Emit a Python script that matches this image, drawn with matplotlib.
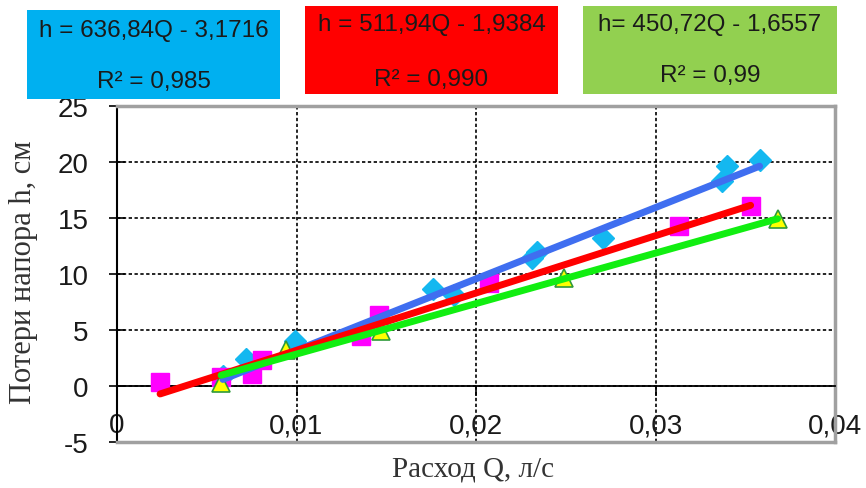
import numpy as np
import matplotlib.pyplot as plt
from matplotlib.patches import Rectangle

plt.rcParams['font.family'] = ['Liberation Sans', 'DejaVu Sans']
plt.rcParams['axes.unicode_minus'] = False

# серия 1 (ромбы)
q1 = [0.0059, 0.0072, 0.0099, 0.0176, 0.0188, 0.0231, 0.0234, 0.0271, 0.0337, 0.0340, 0.0358]
h1 = [0.9, 2.4, 4.0, 8.7, 8.1, 11.4, 12.0, 13.2, 18.3, 19.6, 20.2]
# серия 2 (квадраты)
q2 = [0.0024, 0.0058, 0.0075, 0.0081, 0.0136, 0.0146, 0.0207, 0.0313, 0.0353]
h2 = [0.4, 0.8, 1.1, 2.3, 4.5, 6.3, 9.2, 14.3, 16.1]
# серия 3 (треугольники)
q3 = [0.0058, 0.0094, 0.0147, 0.0249, 0.0368]
h3 = [0.3, 3.2, 4.9, 9.6, 14.9]

# линии тренда: h = a*Q + b
a1, b1 = 636.84, -3.1716
a2, b2 = 511.94, -1.9384
a3, b3 = 450.72, -1.6557

eq_text = ["h = 636,84Q - 3,1716", "h = 511,94Q - 1,9384", "h= 450,72Q - 1,6557"]
r2_text = ["R² = 0,985", "R² = 0,990", "R² = 0,99"]

xticks = [0, 0.01, 0.02, 0.03, 0.04]
xtick_labels = ["0", "0,01", "0,02", "0,03", "0,04"]
yticks = [-5, 0, 5, 10, 15, 20, 25]

W, H = 866, 489
fig = plt.figure(figsize=(8.66, 4.89), dpi=100)
ax = fig.add_axes([117 / W, 1 - 443 / H, 718 / W, 336 / H])

ax.plot(q1, h1, 'D', color='#14b8f0', markersize=11.5, mec='#14b8f0', zorder=3)
ax.plot(q2, h2, 's', color='#ff00ff', markersize=12.5, mec='#ff00ff', zorder=3)
ax.plot(q3, h3, '^', color='#ffff00', markersize=13, mec='#2e9a3a', mew=1.2, zorder=3)

for q, a, b, c in [(q1, a1, b1, '#3f6ef0'), (q2, a2, b2, '#ff0000'), (q3, a3, b3, '#11ee11')]:
    xs = np.array([min(q), max(q)])
    ax.plot(xs, a * xs + b, color=c, lw=5, solid_capstyle='round', zorder=4)

ax.set_xlim(0, 0.04)
ax.set_ylim(-5, 25)
ax.set_xticks(xticks)
ax.set_xticklabels(xtick_labels)
ax.set_yticks(yticks)
ax.grid(True, color='black', linestyle=(0, (2, 1.5)), lw=1.2)
ax.set_axisbelow(True)

ax.spines['bottom'].set_position(('data', 0))
ax.spines['bottom'].set_linewidth(1.3)
ax.spines['left'].set_linewidth(1.5)
for s in ['top', 'right']:
    ax.spines[s].set_color('#a0a0a0')
    ax.spines[s].set_linewidth(2.5)
ax.axhline(-5, color='#a0a0a0', lw=2.5, clip_on=False, zorder=5)

ax.tick_params(axis='x', direction='out', length=7, width=1.2, pad=12, labelsize=20, colors='black')
ax.tick_params(axis='y', direction='inout', length=11, width=1.2, pad=15, labelsize=20)
for lab in ax.get_xticklabels() + ax.get_yticklabels():
    lab.set_color('#1a1a1a')

fig.text(24 / W, 1 - 272 / H, "Потери напора h, см", rotation=90, ha='center', va='center',
         fontsize=22, family='Liberation Serif', color='#333333')
fig.text(473 / W, 1 - 470 / H, "Расход Q, л/с", ha='center', va='center',
         fontsize=21, family='Liberation Serif', color='#333333')

# подписи уравнений
boxes = [(27, 11, 253, 89, '#00b0f0', 31, 82),
         (305, 7, 253, 88, '#ff0000', 25, 80),
         (583, 7, 254, 88, '#92d050', 25, 76)]
for i, (x0, y0, w, h, c, t1, t2) in enumerate(boxes):
    fig.patches.append(Rectangle((x0 / W, 1 - (y0 + h) / H), w / W, h / H,
                                 transform=fig.transFigure, facecolor=c, edgecolor='none'))
    cx = (x0 + w / 2) / W
    fig.text(cx, 1 - t1 / H, eq_text[i], ha='center', va='center', fontsize=17.5, color='#1a1a1a')
    fig.text(cx, 1 - t2 / H, r2_text[i], ha='center', va='center', fontsize=17.5, color='#1a1a1a')

fig.savefig('out.png', dpi=100)
